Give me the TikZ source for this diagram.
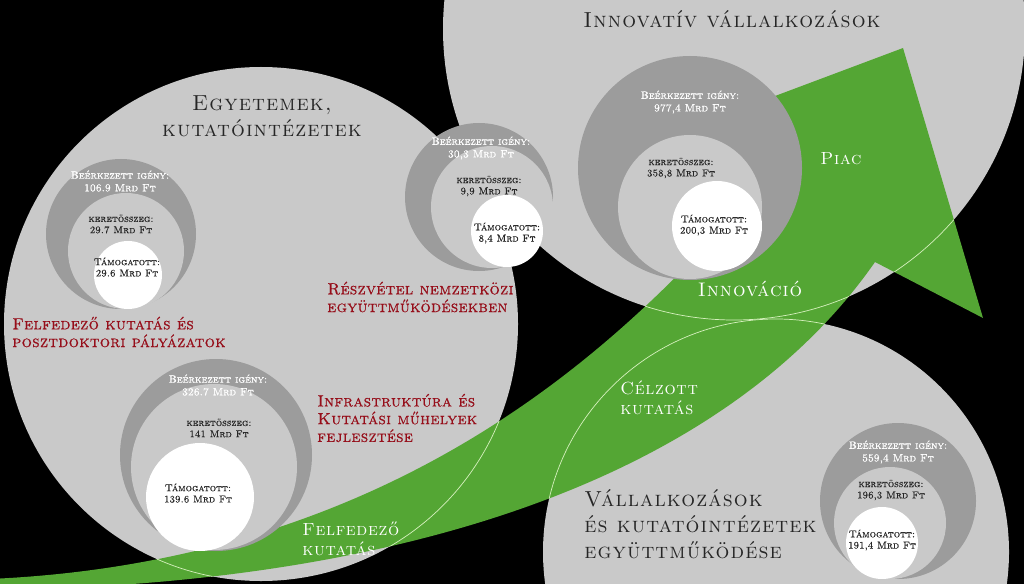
\documentclass[tikz,border=0pt]{standalone}
\usepackage{fontspec}
\usepackage{tikz}
\newfontfamily\capsfont{lmromancaps10-regular.otf}
\definecolor{DiscGray}{RGB}{201,201,201}
\definecolor{RingGray}{RGB}{156,156,156}
\definecolor{ArrowGreen}{RGB}{84,166,52}
\definecolor{RimGreen}{RGB}{214,240,190}
\definecolor{TitleRed}{RGB}{150,14,26}
\definecolor{TitleInk}{RGB}{38,38,38}
\tikzset{every node/.style={inner sep=0pt}}
\tikzset{
  bigdisc/.style={fill=DiscGray},
  outerring/.style={fill=RingGray},
  midring/.style={fill=DiscGray},
  corering/.style={fill=white},
  rimline/.style={draw=RimGreen, line width=0.5pt},
  arrowoutline/.style={insert path={(749,199) -- (639,147) -- (903,48) -- (983,318) -- (875,262)
      .. controls (730,470) and (420,585) .. (-10,590) -- (-10,579)
      .. controls (420,560) and (640,320) .. (749,199) -- cycle}},
  bigtitle/.style={text=TitleInk, align=center, font=\capsfont\fontsize{15.5}{18.4}\selectfont\addfontfeature{LetterSpace=5}},
  sidetitle/.style={bigtitle, align=left, anchor=west},
  redtitle/.style={text=TitleRed, align=left, anchor=west, font=\capsfont\fontsize{11.5}{12.6}\selectfont\addfontfeature{LetterSpace=2,FakeBold=0.6}},
  greentitle/.style={text=white, align=left, font=\capsfont\fontsize{12.5}{14.2}\selectfont\addfontfeature{LetterSpace=4}},
  demand/.style={text=white, align=center, font=\capsfont\fontsize{7.5}{9}\selectfont\addfontfeature{FakeBold=1}},
  budget/.style={text=TitleInk, align=center, font=\capsfont\fontsize{7.1}{8}\selectfont\addfontfeature{FakeBold=0.5}},
}

\begin{document}
\begin{tikzpicture}[x=0.025cm,y=-0.025cm]
\useasboundingbox (0,0) rectangle (1024,584);
\fill[black] (0,0) rectangle (1024,584);
\clip (0,0) rectangle (1024,584);

\coordinate (Egyetem) at (261,324);
\coordinate (Innov) at (734,29);
\coordinate (Egyutt) at (776,552);

%%Big circles
\fill[bigdisc] (Egyetem) circle [radius=257];
\fill[bigdisc] (Innov) circle [radius=291];
\fill[bigdisc] (Egyutt) circle [radius=233];

%%Arrow
\fill[ArrowGreen, arrowoutline];
\begin{scope}
\clip[arrowoutline];
\draw[rimline] (Egyetem) circle [radius=257];
\draw[rimline] (Innov) circle [radius=291];
\draw[rimline] (Egyutt) circle [radius=233];
\end{scope}

%%Budget circles
\fill[outerring] (121,234) circle [radius=75];
\fill[midring] (126,251) circle [radius=58];
\fill[corering] (128,275) circle [radius=34];

\fill[outerring] (216,455) circle [radius=96];
\fill[midring] (214,467) circle [radius=83];
\fill[corering] (200,497) circle [radius=54];

\fill[outerring] (479,197) circle [radius=74];
\fill[midring] (492,207) circle [radius=61];
\fill[corering] (507,231) circle [radius=36];

\fill[outerring] (690,168) circle [radius=112];
\fill[midring] (690,207) circle [radius=72];
\fill[corering] (717,226) circle [radius=45];

\fill[outerring] (898,501) circle [radius=78];
\fill[midring] (890,523) circle [radius=56];
\fill[corering] (882,543) circle [radius=36];

\node[demand] (d1) at (120,181) {Beérkezett igény:\\106.9 Mrd Ft};
\node[budget] (k1) at (121,224) {keretösszeg:\\29.7 Mrd Ft};
\node[budget] (t1) at (127,267) {Támogatott:\\29.6 Mrd Ft};

\node[demand] (d2) at (218,385) {Beérkezett igény:\\326.7 Mrd Ft};
\node[budget] (k2) at (219,428) {keretösszeg:\\141 Mrd Ft};
\node[budget] (t2) at (198,493) {Támogatott:\\139.6 Mrd Ft};

\node[demand] (d3) at (481,148) {Beérkezett igény:\\30,3 Mrd Ft};
\node[budget] (k3) at (489,186) {keretösszeg:\\9,9 Mrd Ft};
\node[budget] (t3) at (507,233) {Támogatott:\\8,4 Mrd Ft};

\node[demand] (d4) at (690,102) {Beérkezett igény:\\977,4 Mrd Ft};
\node[budget] (k4) at (681,168) {keretösszeg:\\358,8 Mrd Ft};
\node[budget] (t4) at (714,225) {Támogatott:\\200,3 Mrd Ft};

\node[demand] (d5) at (898,452) {Beérkezett igény:\\559,4 Mrd Ft};
\node[budget] (k5) at (891,490) {keretösszeg:\\196,3 Mrd Ft};
\node[budget] (t5) at (882,540) {Támogatott:\\191,4 Mrd Ft};

%%Titles
\node[bigtitle] (egyetemek) at (262,116) {Egyetemek,\\kutatóintézetek};
\node[bigtitle] (innovativ) at (732,19) {Innovatív vállalkozások};
\node[sidetitle] (egyuttmukodes) at (584,524) {Vállalkozások\\és kutatóintézetek\\együttműködése};

\node[redtitle] (felfedezo) at (12,332) {Felfedező kutatás és\\posztdoktori pályázatok};
\node[redtitle] (reszvetel) at (327,297) {Részvétel nemzetközi\\együttműködésekben};
\node[redtitle] (infra) at (317,418) {Infrastruktúra és\\Kutatási műhelyek\\fejlesztése};

\node[greentitle, anchor=west] (felfkut) at (302,539) {Felfedező\\kutatás};
\node[greentitle, anchor=west] (celzott) at (620,398) {Célzott\\kutatás};
\node[greentitle, font=\capsfont\fontsize{14}{16}\selectfont\addfontfeature{LetterSpace=5}] (innovacio) at (750,289) {Innováció};
\node[greentitle] (piac) at (841,159) {Piac};

\end{tikzpicture}
\end{document}
